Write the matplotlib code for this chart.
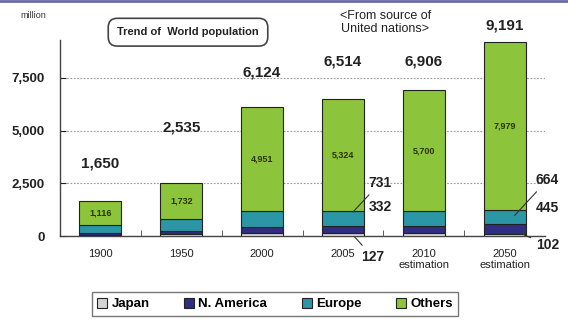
import matplotlib
matplotlib.use('Agg')
import matplotlib.pyplot as plt
from matplotlib.lines import Line2D
import numpy as np

plt.rcParams['font.family'] = ['Liberation Sans', 'DejaVu Sans']

# data (million people)
years = ['1900', '1950', '2000', '2005', '2010\nestimation', '2050\nestimation']
japan = [44, 84, 127, 127, 127, 102]
n_america = [82, 172, 316, 332, 348, 445]
europe = [408, 547, 730, 731, 731, 664]
others = [1116, 1732, 4951, 5324, 5700, 7979]
totals = [1650, 2535, 6124, 6514, 6906, 9191]

series = [('Japan', japan, '#d4d4d4'),
          ('N. America', n_america, '#2e2f80'),
          ('Europe', europe, '#2b96a6'),
          ('Others', others, '#8cc43c')]

fig = plt.figure(figsize=(5.68, 3.22), dpi=100)
ax = fig.add_axes([0.1056, 0.267, 0.854, 0.609])

x = np.arange(len(years))
bottom = np.zeros(len(years))
handles = []
for name, vals, color in series:
    b = ax.bar(x, vals, 0.52, bottom=bottom, color=color, edgecolor='#222222',
               linewidth=0.8, label=name, zorder=3)
    handles.append(b)
    bottom += np.array(vals)

# value of "Others" inside the green part
base = np.array(japan) + np.array(n_america) + np.array(europe)
for i, v in enumerate(others):
    ax.text(x[i], base[i] + v / 2, f'{v:,}', ha='center', va='center',
            fontsize=6.5, color='#2a3300', fontweight='bold', zorder=4)

# totals above bars
label_offsets = [27, 40, 25, 27, 21, 12]
for i, t in enumerate(totals):
    ax.annotate(f'{t:,}', (x[i], t), xytext=(0, label_offsets[i]),
                textcoords='offset points', ha='center', va='center',
                fontsize=11, fontweight='bold', color='#222222',
                annotation_clip=False)

# callouts for the 2005 and 2050 bars
line = dict(arrowstyle='-', color='#333333', lw=0.8)
ax.annotate(f'{europe[3]:,}', (3.1, japan[3] + n_america[3] + europe[3] * 0.8),
            xytext=(3.46, 2515), ha='center', va='center', fontsize=10,
            fontweight='bold', color='#222222', arrowprops=line, annotation_clip=False)
ax.annotate(f'{n_america[3]:,}', (3.46, 1376), ha='center', va='center', fontsize=10,
            fontweight='bold', color='#222222', annotation_clip=False)
ax.annotate(f'{japan[3]:,}', (3.12, japan[3] / 2), xytext=(3.37, -1000),
            ha='center', va='center', fontsize=10, fontweight='bold', color='#222222',
            arrowprops=line, annotation_clip=False)
ax.annotate(f'{europe[5]:,}', (5.1, japan[5] + n_america[5] + europe[5] * 0.5),
            xytext=(5.53, 2658), ha='center', va='center', fontsize=10,
            fontweight='bold', color='#222222', arrowprops=line, annotation_clip=False)
ax.annotate(f'{n_america[5]:,}', (5.53, 1329), ha='center', va='center', fontsize=10,
            fontweight='bold', color='#222222', annotation_clip=False)
ax.annotate(f'{japan[5]:,}', (5.19, japan[5] + 40), xytext=(5.53, -430),
            ha='center', va='center', fontsize=10, fontweight='bold', color='#222222',
            arrowprops=line, annotation_clip=False)

# axes styling
ax.set_xlim(-0.5, 5.5)
ax.set_ylim(0, 9300)
ax.set_yticks([0, 2500, 5000, 7500])
ax.set_yticklabels(['0', '2,500', '5,000', '7,500'])
ax.yaxis.grid(True, linestyle=(0, (1.5, 1.5)), color='#999999', linewidth=0.8, zorder=0)
ax.set_axisbelow(True)
ax.set_xticks(x)
ax.set_xticklabels(years)
ax.set_xticks(np.arange(0.5, 5.5, 1), minor=True)
ax.tick_params(axis='x', which='major', length=0, pad=9, labelsize=8, colors='#222222')
ax.tick_params(axis='x', which='minor', direction='in', length=4, color='#444444')
ax.tick_params(axis='y', direction='in', length=4, pad=11, labelsize=9.5, colors='#222222')
for lbl in ax.get_yticklabels():
    lbl.set_fontweight('bold')
for s in ['top', 'right']:
    ax.spines[s].set_visible(False)
for s in ['left', 'bottom']:
    ax.spines[s].set_color('#444444')
    ax.spines[s].set_linewidth(1.0)

# header texts
fig.text(0.058, 0.953, 'million', fontsize=6.5, ha='center', va='center', color='#333333')
fig.text(0.331, 0.90, 'Trend of  World population', fontsize=8, ha='center', va='center',
         fontweight='bold', color='#222222',
         bbox=dict(boxstyle='round,pad=0.8', facecolor='white', edgecolor='#444444', lw=1.2))
fig.text(0.678, 0.93, '<From source of\nUnited nations>', fontsize=9, ha='center',
         va='center', color='#222222', linespacing=1.1)

# top frame line
fig.add_artist(Line2D([0, 1], [0.996, 0.996], color='#6a6aa8', lw=2, transform=fig.transFigure))

leg = fig.legend(handles=handles, loc='center', bbox_to_anchor=(0.484, 0.056), ncol=4,
                 frameon=True, fancybox=False, edgecolor='#555555', fontsize=9.5,
                 handlelength=0.8, handleheight=0.8, handletextpad=0.3,
                 columnspacing=2.6, borderpad=0.4)
leg.get_frame().set_linewidth(1.0)
for t in leg.get_texts():
    t.set_fontweight('bold')

fig.savefig('out.png', dpi=100)
